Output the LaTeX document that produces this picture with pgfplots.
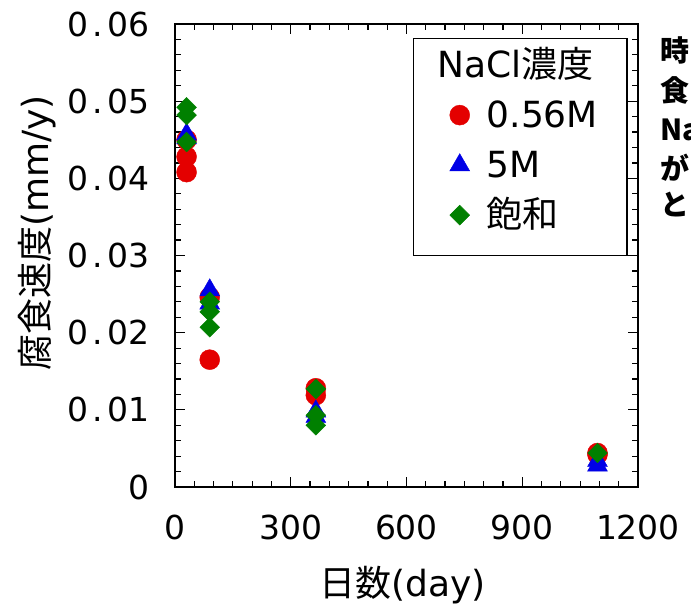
\documentclass[border=0pt]{standalone}
\usepackage{fontspec}
\setmainfont{DejaVu Sans}
\newfontfamily\jp{Noto Sans CJK JP}
\usepackage{pgfplots}
\pgfplotsset{compat=1.18}
\definecolor{cred}{RGB}{228,0,0}
\definecolor{cblue}{RGB}{0,0,230}
\definecolor{cgreen}{RGB}{0,128,0}
\newcommand{\pd}{\kern4.5bp.\kern4.5bp}
\begin{document}
\begin{tikzpicture}
\begin{axis}[
  at={(0,0)}, anchor=south west,
  scale only axis, width=463bp, height=463bp,
  xmin=0, xmax=1200, ymin=0, ymax=0.06,
  scaled y ticks=false, scaled x ticks=false,
  xtick={0,300,600,900,1200},
  xticklabels={0,300,600,900,1200},
  ytick={0,0.01,0.02,0.03,0.04,0.05,0.06},
  yticklabels={0,0\pd01,0\pd02,0\pd03,0\pd04,0\pd05,0\pd06},
  minor x tick num=5, minor y tick num=4,
  tick align=inside,
  major tick length=10bp, minor tick length=6bp,
  every tick/.style={black, line width=1.2bp},
  axis line style={line width=1.5bp},
  ticklabel style={font=\fontsize{33bp}{40bp}\selectfont},
  xticklabel style={anchor=base, yshift=-52bp},
  yticklabel style={anchor=east, xshift=-22bp},
  every axis x label/.style={at={(rel axis cs:0.492,0)}, yshift=-98bp, anchor=center},
  every axis y label/.style={at={(rel axis cs:0,0.549)}, xshift=-138bp, rotate=90, anchor=center},
  label style={font=\fontsize{36bp}{42bp}\selectfont},
  xlabel={{\jp 日数}(day)},
  ylabel={{\jp 腐食速度}(mm/y)},
  legend image code/.code={\path[draw=none,fill=none] (0bp,0bp) (44bp,0bp);\draw[mark repeat=2,mark phase=2,#1] plot coordinates {(0bp,12bp)(22bp,12bp)(44bp,12bp)};},
  legend cell align=left,
  legend style={at={(0.514,0.970)}, anchor=north west, draw=black, line width=1.5bp,
    inner xsep=24bp, inner ysep=2.5bp, row sep=0pt, column sep=0pt,
    cells={anchor=base west},
    nodes={inner xsep=5bp, inner ysep=0pt, text depth=},
    font=\fontsize{36bp}{42bp}\selectfont},
]
\addlegendimage{empty legend}
\addlegendentry{\hspace*{-49bp}\rule[-12bp]{0pt}{48bp}NaCl{\jp 濃度}}
\addplot[only marks, mark=*, mark size=10bp, color=cred, mark options={line width=0.4bp}] coordinates {
 (30,0.0450) (30,0.0428) (30,0.0408)
 (90,0.0246) (90,0.0165)
 (365,0.0128) (365,0.0119)
 (1095,0.0044) (1095,0.0042)
};
\addlegendentry{\rule[-12bp]{0pt}{50bp}0.56M}
\addplot[only marks, mark=triangle*, mark size=11.5bp, color=cblue, mark options={line width=0.4bp}] coordinates {
 (30,0.0457) (30,0.0452)
 (90,0.0255) (90,0.0238)
 (365,0.0098) (365,0.0091)
 (1095,0.0028) (1095,0.0034)
};
\addlegendentry{\rule[-12bp]{0pt}{50bp}5M}
\addplot[only marks, mark=square*, mark size=7bp, color=cgreen, mark options={rotate=45, line width=0.4bp}] coordinates {
 (30,0.0492) (30,0.0482) (30,0.0447)
 (90,0.0240) (90,0.0227) (90,0.0207)
 (365,0.0127) (365,0.0093) (365,0.0080)
 (1095,0.0044)
};
\addlegendentry{\rule[-26bp]{0pt}{64bp}{\jp 飽和}}
\end{axis}
\begin{scope}[every node/.style={anchor=west, inner sep=0pt, font=\fontsize{29bp}{32bp}\selectfont\jp\bfseries}]
\node at (485bp,437bp) {時};
\node at (485bp,397bp) {食};
\node at (485bp,357bp) {Na};
\node at (485bp,319bp) {が};
\node at (485bp,282bp) {と};
\end{scope}
\pgfresetboundingbox
\path[use as bounding box] (-175bp,-118bp) rectangle (516bp,487bp);
\end{tikzpicture}
\end{document}
